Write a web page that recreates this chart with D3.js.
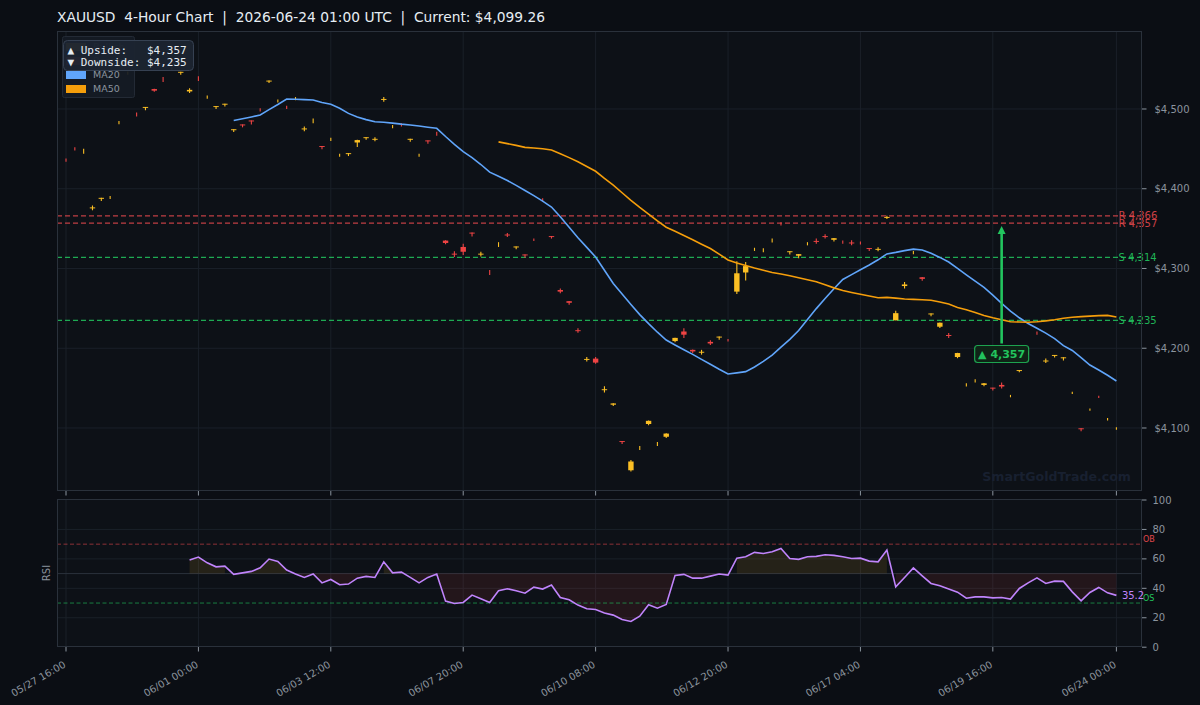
<!DOCTYPE html>
<html><head><meta charset="utf-8">
<script src="https://cdn.jsdelivr.net/npm/d3@7"></script>
<style>
html,body{margin:0;padding:0;background:#0b0e14;}
svg{display:block;}
text{font-family:"DejaVu Sans",sans-serif;}
text.mono{font-family:"DejaVu Sans Mono",monospace;}
</style></head><body>
<svg id="chart" width="1200" height="705"></svg>
<script>
// ---------------- DATA ----------------
const titleText = "XAUUSD  4-Hour Chart  |  2026-06-24 01:00 UTC  |  Current: $4,099.26";
const xTickIdx = [0, 15, 30, 45, 60, 75, 90, 105, 119];
const xTickLabels = ["05/27 16:00","06/01 00:00","06/03 12:00","06/07 20:00","06/10 08:00","06/12 20:00","06/17 04:00","06/19 16:00","06/24 00:00"];
const priceTicks = [4100, 4200, 4300, 4400, 4500];
const rsiTicks = [0, 20, 40, 60, 80, 100];

const opens = [4436.2,4450.2,4446.8,4375.4,4387.4,4388.8,4482.8,4544.8,4493.2,4501.4,
4525,4537.2,4549.8,4545.4,4522,4538.2,4514.8,4502.4,4505.4,4473.4,
4480.6,4485.6,4499.2,4534.4,4509.8,4502.2,4512.8,4474.4,4484.8,4453.6,
4461.8,4441.8,4443.4,4458,4463.4,4461.4,4511.4,4477.8,4480.2,4461.4,
4441.8,4460.6,4469.2,4335,4318.6,4327,4345,4317.4,4295.2,4329.8,
4342.6,4326.4,4317.6,4336.2,4386.2,4340.6,4273,4259,4222.6,4185.4,
4187,4147.4,4129.2,4083.6,4047,4074.8,4105,4079.8,4089,4209,
4221,4198,4194.4,4208,4213.4,4210.2,4271,4295,4323.8,4322.8,
4334.8,4356.2,4320.4,4316,4330.8,4334.6,4340.6,4336,4333.2,4332.6,
4332.2,4325.6,4323.4,4363.4,4235,4278,4319.8,4289,4242.4,4227,
4216.6,4189,4153.8,4158.8,4154,4150.6,4154,4139.8,4171.4,4193.8,
4219.2,4183.4,4190.4,4187.4,4143.8,4099.6,4122.8,4139.2,4110.8,4099.0];
const highs = [4438,4452,4450,4379,4388.6,4391,4485,4547,4495.5,4502.6,
4525.5,4540,4552,4546.6,4526,4541,4517,4503.6,4506.6,4474.6,
4480.6,4485.6,4501,4535.6,4512,4504,4515,4478,4488,4453.6,
4464,4444,4444.6,4461.5,4464.6,4464.5,4515,4480,4482,4462.6,
4444,4460.6,4471.5,4335.3,4321.5,4331,4345,4321,4298,4333,
4344.5,4327.6,4317.6,4337.5,4388,4340.6,4275,4259.3,4225,4189,
4189,4152.5,4131,4083.6,4060,4077.5,4109.3,4082.5,4093.3,4213.3,
4225,4198.3,4198,4210,4214.6,4211.5,4309,4308,4326,4325.5,
4337.5,4358,4321.6,4318.3,4333,4337.5,4343,4338.3,4335,4335.5,
4334,4325.6,4326.5,4366,4247,4283,4322,4289.3,4243.6,4232.3,
4219,4194.3,4156,4161,4156.3,4150.6,4157,4141.5,4172.6,4196,
4221,4187,4191.6,4188.6,4145.5,4099.6,4124.5,4140.5,4112.5,4100.8];
const lows = [4434,4448,4444,4373,4384.5,4387,4481,4543,4490.5,4498.5,
4521.5,4534,4548,4543,4520,4535,4513,4500,4503,4471,
4477,4480.5,4497,4532.5,4508,4500,4511,4472,4482,4449.5,
4460,4440,4441,4452.5,4461.5,4459.5,4509,4476,4478,4459,
4440,4456.5,4466.5,4330.5,4314.5,4317,4340,4315,4292,4327,
4339.5,4324,4313.5,4334.5,4384,4337.5,4269,4254.5,4219.5,4183.5,
4180.5,4144.5,4127.5,4080,4045.5,4072.5,4103.5,4077.5,4087.5,4207.5,
4213,4194,4192,4204,4210.5,4208.5,4268,4285,4322,4320.5,
4332.5,4354,4317.5,4313,4329,4331,4337.5,4334,4331,4329,
4330,4322,4321.5,4362,4235,4275,4318,4284.5,4240,4225.5,
4213,4187.5,4152,4157,4152.5,4147,4149.5,4138.5,4170,4192,
4217,4181.5,4188.5,4184.5,4142.5,4096,4121.5,4137.5,4109.5,4097.7];
const closes = [4435.8,4449.8,4447.2,4376.6,4388.6,4389.2,4483.2,4545.2,4492.8,4502.6,
4523,4536.8,4550.2,4546.6,4524,4537.8,4515.2,4503.6,4506.6,4474.6,
4479.4,4484.4,4498.8,4535.6,4510.2,4501.8,4513.2,4475.6,4485.2,4452.4,
4462.2,4442.2,4444.6,4461,4464.6,4462.6,4512.6,4478.2,4479.8,4462.6,
4442.2,4459.4,4468.8,4332,4317.4,4321,4343.8,4318.6,4294.8,4330.2,
4341.4,4327.6,4316.4,4335.8,4385.8,4339.4,4271,4257,4221.4,4186.6,
4182,4148.6,4130.8,4082.4,4058,4075.2,4109,4080.2,4093,4213,
4217,4196,4195.6,4206,4214.6,4209.8,4294,4303,4324.2,4323.2,
4335.2,4355.8,4321.6,4318,4331.2,4333.4,4339.4,4338,4332.8,4331.4,
4331.8,4324.4,4324.6,4364.6,4244,4280,4320.2,4287,4243.6,4232,
4215.4,4194,4154.2,4159.2,4156,4149.4,4152,4140.2,4172.6,4194.2,
4218.8,4184.6,4191.6,4188.6,4144.2,4098.4,4123.2,4138.8,4111.2,4099.26];

const ma20Start = 19;
const ma20 = [4485.5,4487.7,4490,4492.5,4499.2,4505.6,4512.5,4512.2,4511.7,4511.3,
4508.2,4505.9,4501,4494.5,4490,4486.7,4484,4483.4,4482.3,4481,
4480,4478.6,4477.2,4475.8,4465.5,4455.7,4446.5,4439,4430.4,4420.8,
4415.6,4410.3,4404.2,4397.8,4391.3,4384.4,4377.1,4365,4351.7,4338.6,
4326.5,4314.4,4297.8,4281.3,4268,4254.9,4242.2,4230.9,4220.1,4210.3,
4204.1,4198.2,4192.3,4186,4179.9,4173.6,4167.7,4169.1,4170.7,4176.5,
4183.5,4191.3,4201.3,4211.2,4222.3,4236.1,4249.7,4262.3,4274.5,4286.3,
4292.3,4298.4,4304.4,4310.9,4318.3,4320.2,4322.4,4324.3,4323.3,4319,
4313.9,4308.1,4300.1,4292,4284.2,4276.4,4266.5,4256.2,4246.5,4238.2,
4231.1,4225,4218.9,4212.1,4203.2,4197.2,4188.1,4179,4172.7,4166.1,4158.9];

const ma50Start = 49;
const ma50 = [4458.8,4456.6,4454.4,4451.9,4451,4450.1,4448.7,4444,4439,4433.9,
4427.9,4421.9,4412.9,4404.5,4395,4385.5,4376.6,4368.1,4359.6,4351.7,
4346.6,4341.4,4336.1,4330.5,4325,4318,4310.7,4307,4303.8,4300.6,
4297.8,4295,4293.1,4290.8,4288.5,4286,4283.5,4279.7,4275.7,4272.4,
4270,4267.8,4265.5,4263.4,4263.8,4262.8,4261.8,4261.3,4260.9,4260.1,
4258,4255.5,4251.1,4248.4,4244.8,4241.1,4238.2,4235.7,4233.3,4232.9,
4232.6,4233.3,4234.3,4235.7,4237.6,4238.9,4239.7,4240.3,4240.9,4241.2,4239.2];

const rsiStart = 14;
const rsi = [59.2,61.2,57.3,54.6,55.1,49.5,50.5,51.5,53.9,59.9,
58.3,52.4,49.7,47.4,49.7,43.7,46,42.4,42.9,46.9,
48.1,47.4,58,50.5,51,47.4,43.7,47.4,49.7,31.3,
29.7,30.4,35.4,32.9,30.4,38.3,39.7,38.3,36.7,40.8,
39.5,42.2,33.8,32.2,28.6,26.1,25.6,23.3,21.8,18.8,
17.5,21.1,28.8,26.5,29,48.8,49.5,46.9,46.9,48.3,
49.7,49,60.5,61.4,64.4,63.7,64.8,67.1,60.3,59.7,
61.4,61.7,62.8,62.4,61.4,60.3,60.5,58.5,58,66,
41,47.4,53.9,48.5,43.3,41.7,39.5,37.4,33.3,34.2,
34.2,33.5,33.8,32.7,39.9,43.7,47.1,43.3,44.9,44.7,
37.6,31.5,37.2,40.6,36.9,35.2];

const levelValues = [4366, 4357, 4314, 4235];
const levelKinds  = ["R", "R", "S", "S"];
const upsideTarget = 4357;
const downsideTarget = 4235;
const legendNames = ["Bullish", "Bearish", "MA20", "MA50"];

// ---------------- STYLE ----------------
const C = {
  bg: "#0b0e14", panel: "#0d1117", border: "#2a313b", grid: "#1a2029",
  text: "#8b949e", title: "#e6edf3",
  bull: "#fbbf24", bear: "#ef4444", ma20: "#60a5fa", ma50: "#f59e0b",
  res: "#e0474c", sup: "#22c55e", rsi: "#c084fc"
};
const legendColors = [C.bull, C.bear, C.ma20, C.ma50];

const L = { left: 57, right: 1142, top: 31, mainBottom: 491, rsiTop: 499, rsiBottom: 647 };

const svg = d3.select("#chart");
svg.append("rect").attr("width", 1200).attr("height", 705).attr("fill", C.bg);

const x = d3.scaleLinear().domain([-1.02, 121.9]).range([L.left, L.right]);
const y = d3.scaleLinear().domain([4021, 4597.8]).range([L.mainBottom, L.top]);
const yr = d3.scaleLinear().domain([0, 100]).range([647.2, 500]);

// title
svg.append("text").attr("x", 57).attr("y", 21.5).attr("fill", C.title)
  .attr("font-size", 13.8).style("white-space", "pre").text(titleText);

// panels
svg.append("rect").attr("x", L.left).attr("y", L.top).attr("width", L.right - L.left)
  .attr("height", L.mainBottom - L.top).attr("fill", C.panel);
svg.append("rect").attr("x", L.left).attr("y", L.rsiTop).attr("width", L.right - L.left)
  .attr("height", L.rsiBottom - L.rsiTop).attr("fill", C.panel);

// clip paths
const defs = svg.append("defs");
defs.append("clipPath").attr("id", "clipMain").append("rect")
  .attr("x", L.left).attr("y", L.top).attr("width", L.right - L.left).attr("height", L.mainBottom - L.top);
defs.append("clipPath").attr("id", "clipRsi").append("rect")
  .attr("x", L.left).attr("y", L.rsiTop).attr("width", L.right - L.left).attr("height", L.rsiBottom - L.rsiTop);

// grids
const gMain = svg.append("g").attr("clip-path", "url(#clipMain)");
gMain.selectAll(".hg").data(priceTicks).enter().append("line")
  .attr("x1", L.left).attr("x2", L.right).attr("y1", d => y(d)).attr("y2", d => y(d))
  .attr("stroke", C.grid).attr("stroke-width", 1);
gMain.selectAll(".vg").data(xTickIdx).enter().append("line")
  .attr("x1", d => x(d)).attr("x2", d => x(d)).attr("y1", L.top).attr("y2", L.mainBottom)
  .attr("stroke", C.grid).attr("stroke-width", 1);

// watermark
svg.append("text").attr("x", 1131).attr("y", 481).attr("text-anchor", "end")
  .attr("font-size", 12.6).attr("font-weight", "bold").attr("fill", "#182030")
  .text("SmartGoldTrade.com");

// levels
levelValues.forEach((v, k) => {
  const col = levelKinds[k] === "R" ? C.res : C.sup;
  gMain.append("line").attr("x1", L.left).attr("x2", L.right).attr("y1", y(v)).attr("y2", y(v))
    .attr("stroke", col).attr("stroke-width", 1.2).attr("stroke-dasharray", "5,3").attr("opacity", 0.85);
  svg.append("text").attr("x", 1118.5).attr("y", y(v) + 3.6).attr("fill", col)
    .attr("font-size", 10).attr("opacity", 0.9)
    .text(levelKinds[k] + " " + d3.format(",")(v));
});

// candles
const idx = d3.range(opens.length);
const bw = 5.4;
const gC = gMain.append("g");
idx.forEach(i => {
  const o = opens[i], c = closes[i];
  const col = c >= o ? C.bull : C.bear;
  gC.append("line").attr("x1", x(i)).attr("x2", x(i)).attr("y1", y(highs[i])).attr("y2", y(lows[i]))
    .attr("stroke", col).attr("stroke-width", 1.1);
  const h = Math.abs(y(o) - y(c));
  if (h >= 0.6) {
    gC.append("rect").attr("x", x(i) - bw / 2).attr("y", y(Math.max(o, c)))
      .attr("width", bw).attr("height", h).attr("fill", col);
  }
});

// MA lines
const lineMain = d3.line().x(d => x(d[0])).y(d => y(d[1]));
gMain.append("path").datum(ma20.map((v, k) => [k + ma20Start, v])).attr("d", lineMain)
  .attr("fill", "none").attr("stroke", C.ma20).attr("stroke-width", 1.6);
gMain.append("path").datum(ma50.map((v, k) => [k + ma50Start, v])).attr("d", lineMain)
  .attr("fill", "none").attr("stroke", C.ma50).attr("stroke-width", 1.6);

// target arrow
const ax = x(106), boxY = 345.5, boxH = 17;
gMain.append("line").attr("x1", ax).attr("x2", ax).attr("y1", boxY - 2).attr("y2", y(upsideTarget) + 10)
  .attr("stroke", C.sup).attr("stroke-width", 2.6);
gMain.append("path")
  .attr("d", `M${ax},${y(upsideTarget) + 3} L${ax - 4},${y(upsideTarget) + 11} L${ax + 4},${y(upsideTarget) + 11} Z`)
  .attr("fill", C.sup);
svg.append("rect").attr("x", ax - 27).attr("y", boxY).attr("width", 54).attr("height", boxH).attr("rx", 3)
  .attr("fill", "#0f2417").attr("stroke", C.sup).attr("stroke-width", 1.2).attr("stroke-opacity", 0.8);
svg.append("text").attr("x", ax).attr("y", boxY + 12.3).attr("text-anchor", "middle")
  .attr("font-size", 11).attr("font-weight", "bold").attr("fill", C.sup)
  .text("\u25B2 " + d3.format(",")(upsideTarget));

// main panel frame
svg.append("rect").attr("x", L.left + 0.5).attr("y", L.top + 0.5).attr("width", L.right - L.left - 1)
  .attr("height", L.mainBottom - L.top - 1).attr("fill", "none").attr("stroke", C.border);

// price axis
const fmtP = v => "$" + d3.format(",")(v);
priceTicks.forEach(v => {
  svg.append("line").attr("x1", L.right).attr("x2", L.right + 4.5).attr("y1", y(v)).attr("y2", y(v))
    .attr("stroke", C.text).attr("stroke-width", 1);
  svg.append("text").attr("x", L.right + 12.5).attr("y", y(v) + 3.6).attr("fill", C.text)
    .attr("font-size", 10).text(fmtP(v));
});
xTickIdx.forEach(i => {
  svg.append("line").attr("x1", x(i)).attr("x2", x(i)).attr("y1", L.mainBottom).attr("y2", L.mainBottom + 4.5)
    .attr("stroke", C.text).attr("stroke-width", 1);
});

// legend
const lg = svg.append("g");
lg.append("rect").attr("x", 62.5).attr("y", 36.5).attr("width", 72).attr("height", 61).attr("rx", 2)
  .attr("fill", "#151b25").attr("fill-opacity", 0.92).attr("stroke", "#232a35");
legendNames.forEach((n, k) => {
  const cy = 47 + k * 14;
  lg.append("rect").attr("x", 66).attr("y", cy - 4).attr("width", 20).attr("height", 8).attr("fill", legendColors[k]);
  lg.append("text").attr("x", 93).attr("y", cy + 3.4).attr("fill", C.text).attr("font-size", 9.5).text(n);
});

// info box
const ib = svg.append("g");
ib.append("rect").attr("x", 63.5).attr("y", 40.5).attr("width", 130).attr("height", 30).attr("rx", 4)
  .attr("fill", "#1c2431").attr("fill-opacity", 0.97).attr("stroke", "#364152").attr("stroke-width", 1);
ib.append("text").attr("class", "mono").attr("x", 67.5).attr("y", 53.8).attr("fill", C.title).attr("font-size", 11)
  .style("white-space", "pre")
  .text("\u25B2 Upside:   " + fmtP(upsideTarget));
ib.append("text").attr("class", "mono").attr("x", 67.5).attr("y", 66).attr("fill", C.title).attr("font-size", 11)
  .style("white-space", "pre")
  .text("\u25BC Downside: " + fmtP(downsideTarget));

// ---------------- RSI PANEL ----------------
const gR = svg.append("g").attr("clip-path", "url(#clipRsi)");
[20, 40, 60, 80].forEach(v => {
  gR.append("line").attr("x1", L.left).attr("x2", L.right).attr("y1", yr(v)).attr("y2", yr(v))
    .attr("stroke", C.grid);
});
xTickIdx.forEach(i => {
  gR.append("line").attr("x1", x(i)).attr("x2", x(i)).attr("y1", L.rsiTop).attr("y2", L.rsiBottom)
    .attr("stroke", C.grid);
});
gR.append("line").attr("x1", L.left).attr("x2", L.right).attr("y1", yr(50)).attr("y2", yr(50))
  .attr("stroke", "#2b323c").attr("stroke-width", 1);

// fills (contiguous runs above / below 50)
const rsiPts = rsi.map((v, k) => [k + rsiStart, v]);
function runs(pred) {
  const out = []; let cur = [];
  rsiPts.forEach(p => { if (pred(p[1])) cur.push(p); else { if (cur.length > 1) out.push(cur); cur = []; } });
  if (cur.length > 1) out.push(cur);
  return out;
}
const area50 = d3.area().x(d => x(d[0])).y0(yr(50)).y1(d => yr(d[1]));
runs(v => v >= 50).forEach(r => gR.append("path").datum(r).attr("d", area50)
  .attr("fill", C.bull).attr("fill-opacity", 0.1));
runs(v => v < 50).forEach(r => gR.append("path").datum(r).attr("d", area50)
  .attr("fill", C.bear).attr("fill-opacity", 0.1));

gR.append("line").attr("x1", L.left).attr("x2", L.right).attr("y1", yr(70)).attr("y2", yr(70))
  .attr("stroke", C.res).attr("stroke-width", 1).attr("stroke-dasharray", "4,2.5").attr("opacity", 0.6);
gR.append("line").attr("x1", L.left).attr("x2", L.right).attr("y1", yr(30)).attr("y2", yr(30))
  .attr("stroke", C.sup).attr("stroke-width", 1).attr("stroke-dasharray", "4,2.5").attr("opacity", 0.6);

gR.append("path").datum(rsiPts).attr("d", d3.line().x(d => x(d[0])).y(d => yr(d[1])))
  .attr("fill", "none").attr("stroke", C.rsi).attr("stroke-width", 1.6);

svg.append("rect").attr("x", L.left + 0.5).attr("y", L.rsiTop + 0.5).attr("width", L.right - L.left - 1)
  .attr("height", L.rsiBottom - L.rsiTop - 1).attr("fill", "none").attr("stroke", C.border);

rsiTicks.forEach(v => {
  svg.append("line").attr("x1", L.right).attr("x2", L.right + 4.5).attr("y1", yr(v)).attr("y2", yr(v))
    .attr("stroke", C.text);
  svg.append("text").attr("x", L.right + 10.5).attr("y", yr(v) + 3.6).attr("fill", C.text)
    .attr("font-size", 10).text(v);
});
svg.append("text").attr("x", L.right + 1).attr("y", yr(70) - 2.5).attr("fill", C.res)
  .attr("font-size", 8).text("OB");
svg.append("text").attr("x", L.right + 1).attr("y", yr(30) - 2.5).attr("fill", C.sup)
  .attr("font-size", 8).text("OS");
const lastRsi = rsi[rsi.length - 1];
svg.append("text").attr("x", x(rsiStart + rsi.length - 1) + 5.5).attr("y", yr(lastRsi) + 3.6)
  .attr("fill", C.rsi).attr("font-size", 10).text(lastRsi.toFixed(1));

svg.append("text").attr("transform", `translate(50,${(L.rsiTop + L.rsiBottom) / 2}) rotate(-90)`)
  .attr("text-anchor", "middle").attr("fill", C.text).attr("font-size", 10).text("RSI");

xTickIdx.forEach((i, k) => {
  svg.append("line").attr("x1", x(i)).attr("x2", x(i)).attr("y1", L.rsiBottom).attr("y2", L.rsiBottom + 4.5)
    .attr("stroke", C.text);
  svg.append("text").attr("transform", `translate(${x(i) + 0.5},666.5) rotate(-30)`)
    .attr("text-anchor", "end").attr("fill", C.text).attr("font-size", 10).text(xTickLabels[k]);
});
</script>
</body></html>
